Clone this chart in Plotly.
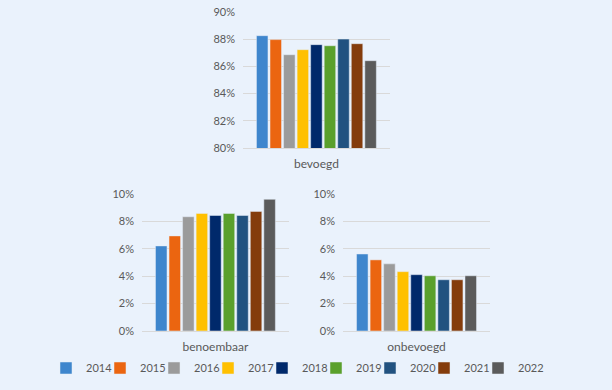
import plotly.graph_objects as go

years = ["2014", "2015", "2016", "2017", "2018", "2019", "2020", "2021", "2022"]
colors = ["#3E86CD", "#EB6510", "#9B9B9B", "#FFC000", "#00296B",
          "#5AA02C", "#215280", "#843C0C", "#5B5B5B"]

bevoegd = [88.26, 87.97, 86.86, 87.23, 87.60, 87.52, 88.01, 87.67, 86.42]
benoembaar = [6.21, 6.94, 8.34, 8.58, 8.43, 8.58, 8.43, 8.73, 9.61]
onbevoegd = [5.62, 5.19, 4.90, 4.33, 4.11, 4.03, 3.74, 3.74, 4.03]

panels = [("bevoegd", bevoegd, "x", "y"),
          ("benoembaar", benoembaar, "x2", "y2"),
          ("onbevoegd", onbevoegd, "x3", "y3")]

BG = "#EAF2FC"
TXT = "#595959"
GRID = "#D9D9D9"
FONT = "Lato"

legend_ids = ["legend"] + ["legend%d" % (i + 1) for i in range(1, len(years))]

fig = go.Figure()
for p, (cat, vals, xa, ya) in enumerate(panels):
    for i, yr in enumerate(years):
        fig.add_trace(go.Bar(
            x=[cat], y=[vals[i]], name=yr, legendgroup=yr,
            legend=legend_ids[i],
            showlegend=(p == 0), marker_color=colors[i],
            xaxis=xa, yaxis=ya, hoverinfo="y+name"))

xcommon = dict(type="category", showgrid=False, showline=True, linecolor=GRID,
               linewidth=1, ticks="", tickfont=dict(size=12, color=TXT, family=FONT),
               ticklabelstandoff=5, fixedrange=True, automargin=False)
ycommon = dict(showgrid=True, gridcolor=GRID, gridwidth=1, zeroline=False,
               showline=False, ticks="", ticksuffix="%",
               tickfont=dict(size=11, color=TXT, family=FONT), ticklabelstandoff=7,
               fixedrange=True, automargin=False)

layout = dict(
    width=612, height=390,
    margin=dict(l=0, r=0, t=0, b=0, autoexpand=False),
    paper_bgcolor=BG, plot_bgcolor=BG,
    font=dict(family=FONT, color=TXT, size=11),
    barmode="group", bargap=0.17, bargroupgap=0.15,
    xaxis=dict(domain=[0.397, 0.637], anchor="y", **xcommon),
    yaxis=dict(domain=[0.6205, 0.9692], anchor="x", range=[80, 90], dtick=2, tick0=0, **ycommon),
    xaxis2=dict(domain=[0.232, 0.472], anchor="y2", **xcommon),
    yaxis2=dict(domain=[0.1513, 0.5026], anchor="x2", range=[0, 10], dtick=2, tick0=0, **ycommon),
    xaxis3=dict(domain=[0.5605, 0.8007], anchor="y3", **xcommon),
    yaxis3=dict(domain=[0.1513, 0.5026], anchor="x3", range=[0, 10], dtick=2, tick0=0, **ycommon),
    showlegend=True,
)

# one legend entry per year, laid out in a single row
step = 54
first_center = 66
for i, lid in enumerate(legend_ids):
    left_px = first_center + i * step - 20
    layout[lid] = dict(orientation="h", x=left_px / 612, xanchor="left",
                       y=1 - 368 / 390, yanchor="middle", bgcolor="rgba(0,0,0,0)",
                       font=dict(size=11, color=TXT, family=FONT),
                       itemwidth=30, itemclick=False, itemdoubleclick=False)

fig.update_layout(**layout)
fig.write_html("out.html", config={"displayModeBar": False},
               post_script="document.body.style.margin='0';")
